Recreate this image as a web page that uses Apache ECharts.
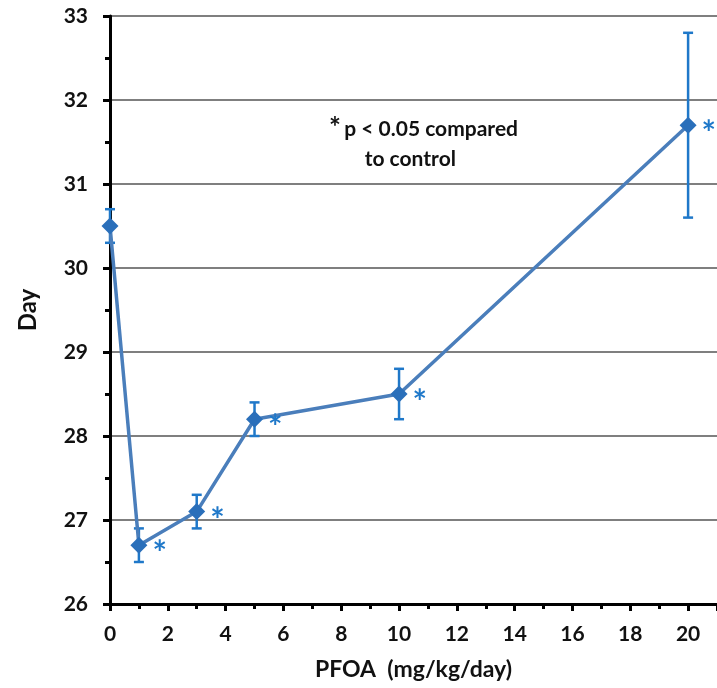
<!DOCTYPE html>
<html>
<head>
<meta charset="utf-8">
<script src="https://cdn.jsdelivr.net/npm/echarts@6/dist/echarts.min.js"></script>
<style>
  html, body { margin: 0; padding: 0; background: #fff; }
  #chart { width: 717px; height: 688px; }
</style>
</head>
<body>
<div id="chart"></div>
<script>
// PFOA dose (mg/kg/day) and day of onset (mean, SEM)
var doses = [0, 1, 3, 5, 10, 20];
var meanDay = [30.5, 26.7, 27.1, 28.2, 28.5, 31.7];
var semDay = [0.2, 0.2, 0.2, 0.2, 0.3, 1.1];
// significance flags (p < 0.05 vs control)
var significant = [false, true, true, true, true, true];

var chart = echarts.init(document.getElementById('chart'));

var font = 'Lato, "Open Sans", sans-serif';
var lineBlue = '#4a7ebb';
var markBlue = '#2a6fba';
var errBlue = '#1f78c9';

var points = doses.map(function (d, i) {
    return {
        value: [d, meanDay[i]],
        label: { show: significant[i] }
    };
});

var errors = doses.map(function (d, i) {
    return [d, meanDay[i] - semDay[i], meanDay[i] + semDay[i]];
});

chart.setOption({
    animation: false,
    textStyle: { fontFamily: font },

    grid: {
        left: 110,
        right: 0,
        top: 16,
        bottom: 84,
        outerBoundsMode: 'none'
    },

    graphic: [
        {
            type: 'text',
            x: 391,
            y: -22,
            style: {
                text: 'Vaginal Opening (mean, SEM)',
                font: 'bold 21px ' + font,
                fill: '#111',
                align: 'center',
                verticalAlign: 'top'
            }
        },
        {
            type: 'text',
            x: 329,
            y: 114,
            style: {
                text: '{s|*} {t|p < 0.05 compared}\n{t|       to control}',
                fill: '#111',
                rich: {
                    s: { font: 'bold 28px ' + font, fill: '#111', verticalAlign: 'top' },
                    t: { font: 'bold 21px ' + font, fill: '#111', lineHeight: 30 }
                }
            }
        }
    ],

    xAxis: {
        type: 'value',
        min: 0,
        max: 21,
        interval: 2,
        name: 'PFOA  (mg/kg/day)',
        nameLocation: 'middle',
        nameGap: 54,
        nameTextStyle: {
            fontFamily: font,
            fontWeight: 'bold',
            fontSize: 23,
            color: '#111'
        },
        axisLine: {
            onZero: false,
            lineStyle: { color: '#000', width: 3 }
        },
        axisTick: {
            length: 7,
            lineStyle: { color: '#000', width: 3 }
        },
        minorTick: {
            show: true,
            splitNumber: 2,
            length: 5,
            lineStyle: { color: '#000', width: 3 }
        },
        axisLabel: {
            showMaxLabel: false,
            margin: 20,
            fontFamily: font,
            fontWeight: 'bold',
            fontSize: 21,
            color: '#111'
        },
        splitLine: { show: false }
    },

    yAxis: {
        type: 'value',
        min: 26,
        max: 33,
        interval: 1,
        name: 'Day',
        nameLocation: 'middle',
        nameGap: 70,
        nameTextStyle: {
            fontFamily: font,
            fontWeight: 'bold',
            fontSize: 24,
            color: '#111'
        },
        axisLine: {
            show: true,
            lineStyle: { color: '#000', width: 3 }
        },
        axisTick: {
            show: true,
            length: 7,
            lineStyle: { color: '#000', width: 3 }
        },
        minorTick: {
            show: true,
            splitNumber: 2,
            length: 5,
            lineStyle: { color: '#000', width: 3 }
        },
        axisLabel: {
            margin: 22,
            fontFamily: font,
            fontWeight: 'bold',
            fontSize: 21,
            color: '#111'
        },
        splitLine: {
            show: true,
            lineStyle: { color: '#555', width: 1.5 }
        }
    },

    series: [
        {
            type: 'custom',
            name: 'SEM',
            z: 3,
            data: errors,
            renderItem: function (params, api) {
                var x = api.value(0);
                var top = api.coord([x, api.value(2)]);
                var bot = api.coord([x, api.value(1)]);
                var cap = 5;
                var style = { stroke: errBlue, lineWidth: 2.5 };
                return {
                    type: 'group',
                    children: [
                        { type: 'line', shape: { x1: top[0], y1: top[1], x2: bot[0], y2: bot[1] }, style: style },
                        { type: 'line', shape: { x1: top[0] - cap, y1: top[1], x2: top[0] + cap, y2: top[1] }, style: style },
                        { type: 'line', shape: { x1: bot[0] - cap, y1: bot[1], x2: bot[0] + cap, y2: bot[1] }, style: style }
                    ]
                };
            }
        },
        {
            type: 'line',
            name: 'Day',
            z: 4,
            data: points,
            symbol: 'diamond',
            symbolSize: 17,
            lineStyle: { color: lineBlue, width: 3.5 },
            itemStyle: { color: markBlue },
            label: {
                position: 'right',
                distance: 5,
                offset: [0, 9],
                formatter: '*',
                fontFamily: font,
                fontWeight: 'bold',
                fontSize: 34,
                color: errBlue
            }
        }
    ]
});
</script>
</body>
</html>
